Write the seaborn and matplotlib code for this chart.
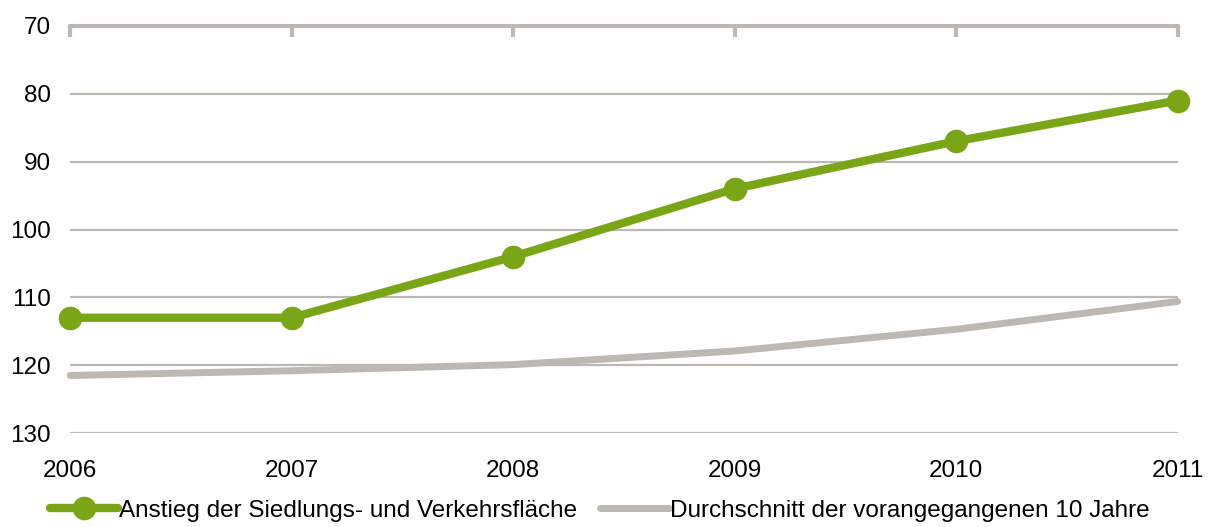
import matplotlib
matplotlib.use("Agg")
import matplotlib.pyplot as plt
import seaborn as sns
import pandas as pd

years = [2006, 2007, 2008, 2009, 2010, 2011]
anstieg = [113, 113, 104, 94, 87, 81]
durchschnitt = [121.5, 120.8, 119.9, 117.9, 114.7, 110.6]
label_anstieg = "Anstieg der Siedlungs- und Verkehrsfläche"
label_durchschnitt = "Durchschnitt der vorangegangenen 10 Jahre"
y_ticks = [70, 80, 90, 100, 110, 120, 130]

GREEN = "#7AA516"
GRAY = "#BEB8B3"

sns.set_theme(style="white")
plt.rcParams["font.family"] = ["Liberation Sans", "DejaVu Sans"]
plt.rcParams["text.color"] = "black"

df = pd.DataFrame({
    "Jahr": years * 2,
    "Wert": anstieg + durchschnitt,
    "Reihe": [label_anstieg] * len(years) + [label_durchschnitt] * len(years),
})

fig = plt.figure(figsize=(12.09, 5.27), dpi=100)
ax = fig.add_axes([0.058, 0.178, 0.916, 0.773])

for y in y_ticks[1:]:
    ax.axhline(y, color=GRAY, lw=1.6, zorder=0)

sns.lineplot(data=df[df["Reihe"] == label_durchschnitt], x="Jahr", y="Wert",
             color=GRAY, lw=5, ax=ax, label=label_durchschnitt,
             solid_capstyle="round", clip_on=False, zorder=2)
sns.lineplot(data=df[df["Reihe"] == label_anstieg], x="Jahr", y="Wert",
             color=GREEN, lw=6, marker="o", markersize=17, markeredgewidth=0,
             ax=ax, label=label_anstieg, clip_on=False, zorder=3)

ax.set_xlim(years[0], years[-1])
ax.set_ylim(130, 70)
ax.set_xticks(years)
ax.set_yticks(y_ticks)
ax.set_xlabel("")
ax.set_ylabel("")

for side in ["left", "right", "bottom"]:
    ax.spines[side].set_visible(False)
ax.spines["top"].set_color(GRAY)
ax.spines["top"].set_linewidth(3)
ax.spines["top"].set_capstyle("round")

ax.tick_params(axis="x", top=True, bottom=False, labeltop=False, labelbottom=True,
               direction="in", length=8, width=3, color=GRAY,
               labelsize=17.5, pad=19, labelcolor="black")
ax.tick_params(axis="y", left=False, labelsize=17.5, pad=8, labelcolor="black")

handles, labels = ax.get_legend_handles_labels()
order = [labels.index(label_anstieg), labels.index(label_durchschnitt)]
ax.get_legend().remove()
fig.legend([handles[i] for i in order], [labels[i] for i in order],
           loc="lower center", bbox_to_anchor=(0.496, -0.032), ncol=2, frameon=False,
           fontsize=17.5, handlelength=2.8, handletextpad=0.05, columnspacing=0.95,
           labelcolor="black")

fig.savefig("out.png", dpi=100)
